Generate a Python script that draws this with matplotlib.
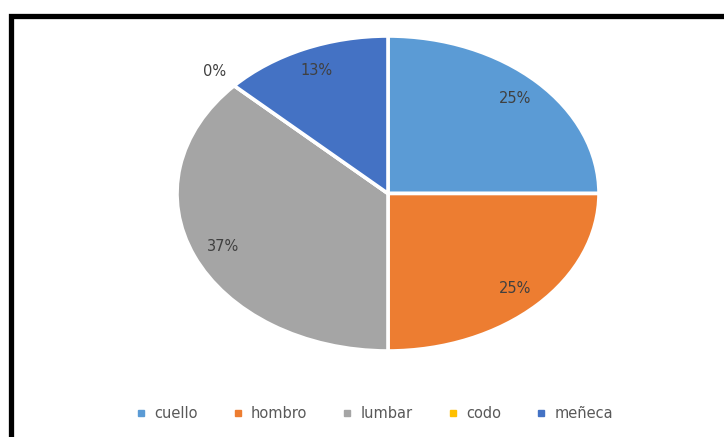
import numpy as np
import matplotlib.pyplot as plt
from matplotlib.lines import Line2D
from matplotlib.patches import Rectangle

categorias = ['cuello', 'hombro', 'lumbar', 'codo', 'meñeca']
porcentajes = [25, 25, 37, 0, 13]
colores = ['#5B9BD5', '#ED7D31', '#A5A5A5', '#FFC000', '#4472C4']

fig = plt.figure(figsize=(7.24, 4.37), dpi=100)
fig.patch.set_facecolor('white')

# marco negro del grafico
fig.patches.append(Rectangle((10.5 / 724, -0.2), 1.2, 1.2 - 15.5 / 437,
                             transform=fig.transFigure, fill=False,
                             edgecolor='black', linewidth=3.8))

ax = fig.add_axes([177 / 724, (437 - 351) / 437, 422 / 724, 315 / 437])
wedges, _ = ax.pie(porcentajes, colors=colores, startangle=90, counterclock=False,
                   wedgeprops=dict(edgecolor='white', linewidth=2.6))
ax.set_aspect('auto')
ax.set_xlim(-1, 1)
ax.set_ylim(-1, 1)

# etiquetas de porcentaje
for w, p in zip(wedges, porcentajes):
    ang = np.deg2rad((w.theta1 + w.theta2) / 2)
    d = 1.13 if p == 0 else 0.85
    ax.text(d * np.cos(ang), d * np.sin(ang), f'{p}%', ha='center', va='center',
            fontsize=10.5, color='#404040')

handles = [Line2D([], [], marker='s', linestyle='none', markersize=4.5,
                  markerfacecolor=c, markeredgecolor=c) for c in colores]
fig.legend(handles, categorias, loc='center', bbox_to_anchor=(374 / 724, 1 - 414 / 437),
           ncol=5, frameon=False, fontsize=10.5, labelcolor='#595959',
           handlelength=0.8, handletextpad=0.5, columnspacing=2.35)

fig.savefig('out.png', dpi=100)
